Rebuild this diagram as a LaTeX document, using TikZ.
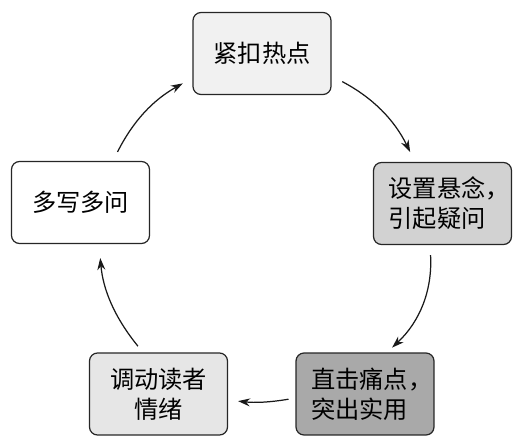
\documentclass[tikz,border=0pt]{standalone}
\usepackage{fontspec}
\newfontfamily\cjk{Noto Sans CJK SC}
\usetikzlibrary{arrows.meta}
\definecolor{fillA}{HTML}{F1F1F1}
\definecolor{fillB}{HTML}{D2D2D2}
\definecolor{fillC}{HTML}{A9A9A9}
\definecolor{fillD}{HTML}{E6E6E6}
\newcommand{\halfcomma}{\makebox[0.45em][l]{，}}
\begin{document}
\begin{tikzpicture}[
    x=0.02cm, y=-0.02cm,
    stagebox/.style={draw=black!85, line width=0.7pt, rounded corners=0.16cm,
      minimum width=2.76cm, minimum height=1.64cm, align=center,
      font=\cjk\fontsize{13.8}{17}\selectfont},
    cyclearrow/.style={-{Stealth[length=0.24cm,width=0.16cm]}, line width=0.7pt, black!90}
]
  \useasboundingbox (0,0) rectangle (523,446);
  % the five stages
  \node[stagebox, fill=fillA] (hot) at (262,53.5) {紧扣热点};
  \node[stagebox, fill=fillB, align=left] (suspense) at (442.5,203.5) {设置悬念\halfcomma\\引起疑问};
  \node[stagebox, fill=fillC, align=left] (pain) at (365,394) {直击痛点\halfcomma\\突出实用};
  \node[stagebox, fill=fillD] (emotion) at (158.5,394) {调动读者\\情绪};
  \node[stagebox, fill=white] (more) at (80.5,202.5) {多写多问};
  % arrows round the cycle
  \draw[cyclearrow, shorten <=0.24cm, shorten >=0.22cm]
    ([yshift=-0.45cm]hot.east) to[bend left=18] ([xshift=-0.55cm]suspense.north);
  \draw[cyclearrow, shorten <=0.2cm, shorten >=0.14cm]
    ([xshift=-0.25cm]suspense.south) to[bend left=25] ([xshift=0.44cm]pain.north);
  \draw[cyclearrow, shorten <=0.14cm, shorten >=0.2cm]
    ([yshift=-0.08cm]pain.west) to[bend left=8] ([yshift=-0.12cm]emotion.east);
  \draw[cyclearrow, shorten <=0.16cm, shorten >=0.28cm]
    ([xshift=-0.31cm]emotion.north) to[bend left=17] ([xshift=0.37cm]more.south);
  \draw[cyclearrow, shorten <=0.2cm, shorten >=0.22cm]
    ([xshift=0.65cm]more.north) to[bend left=17] ([yshift=-0.49cm]hot.west);
\end{tikzpicture}
\end{document}
